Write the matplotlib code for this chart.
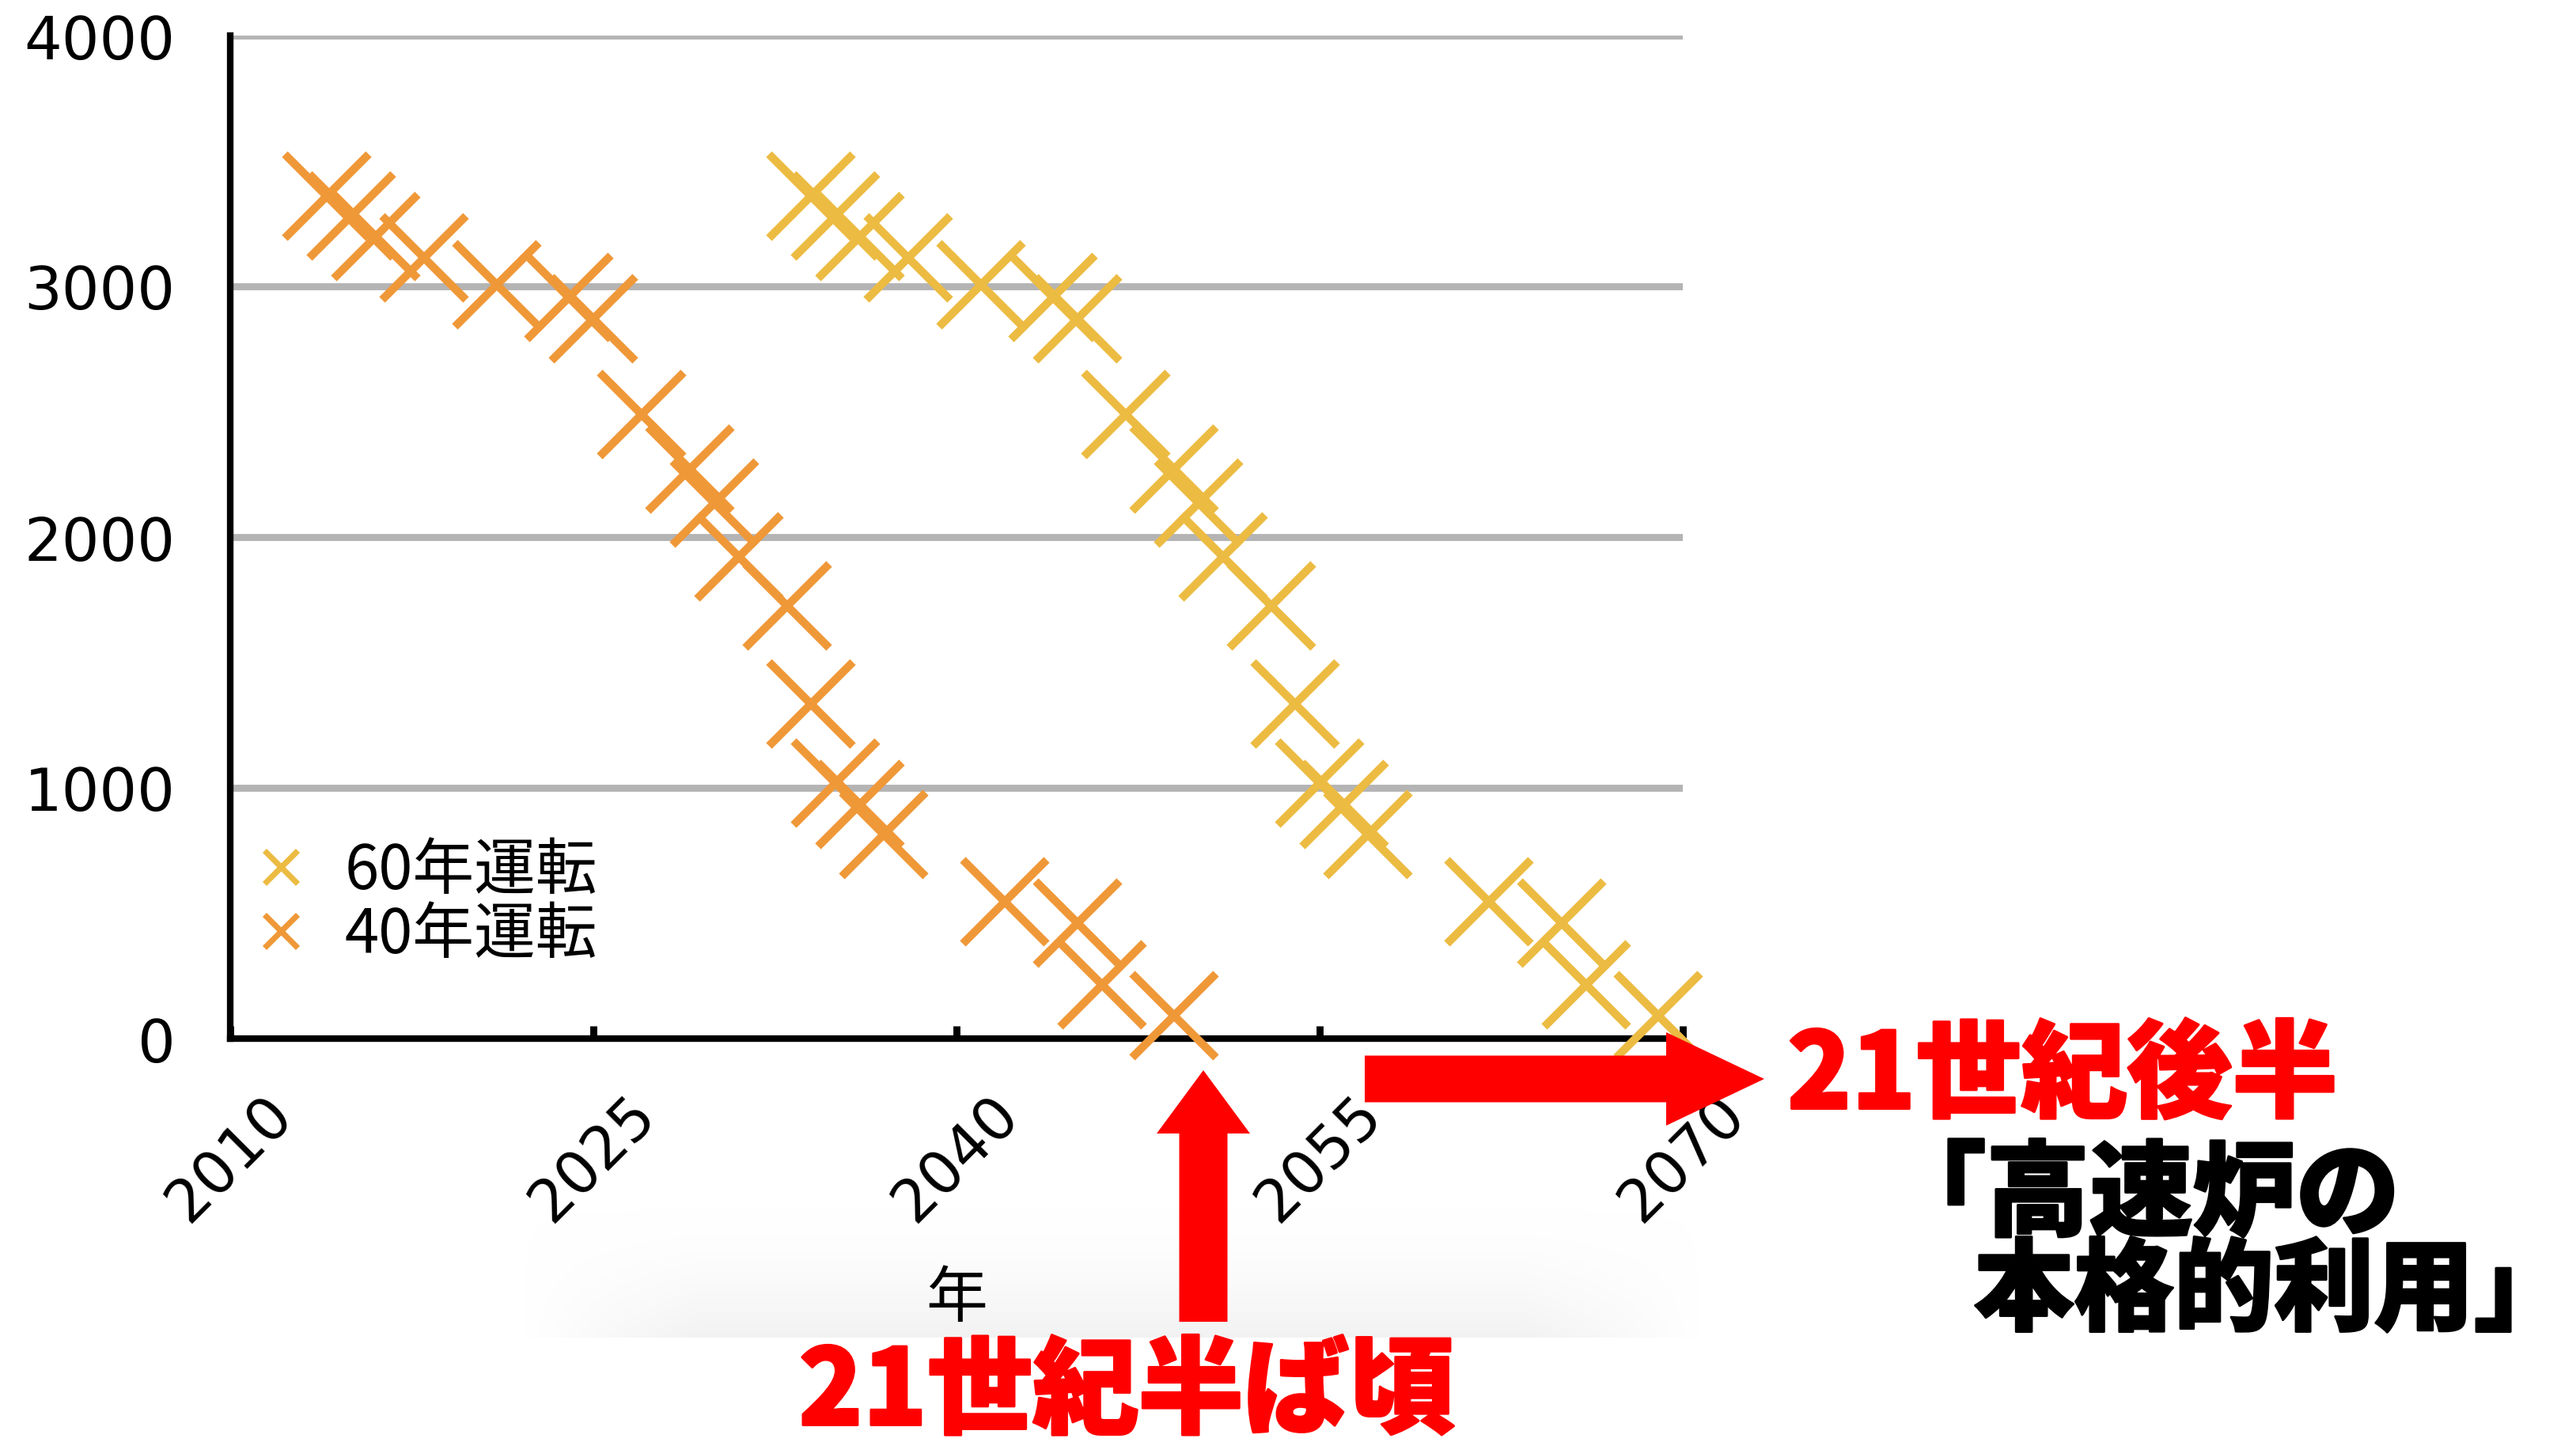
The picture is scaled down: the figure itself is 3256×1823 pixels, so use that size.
import numpy as np
import matplotlib
matplotlib.use("Agg")
import matplotlib.pyplot as plt
import matplotlib.patheffects as pe
from matplotlib.lines import Line2D
from matplotlib.patches import FancyArrow

plt.rcParams['font.family'] = ['DejaVu Sans', 'Noto Sans CJK JP']
JP = ['Noto Sans CJK JP', 'DejaVu Sans']

# 運転期間ごとの推移
years_40 = [2014, 2015, 2016, 2018, 2021, 2024, 2025, 2027, 2029, 2030,
            2031, 2033, 2034, 2035, 2036, 2037, 2042, 2045, 2046, 2049]
values_40 = [3360, 3280, 3200, 3115, 3005, 2955, 2870, 2490, 2270, 2135,
             1920, 1725, 1335, 1020, 935, 815, 545, 460, 215, 90]
years_60 = [2034, 2035, 2036, 2038, 2041, 2044, 2045, 2047, 2049, 2050,
            2051, 2053, 2054, 2055, 2056, 2057, 2062, 2065, 2066, 2069]
values_60 = [3360, 3280, 3200, 3115, 3005, 2955, 2870, 2490, 2270, 2135,
             1920, 1725, 1335, 1020, 935, 815, 545, 460, 215, 90]

labels = ['60年運転', '40年運転']
colors = ['#ECBB42', '#EF9838']
x_ticks = [2010, 2025, 2040, 2055, 2070]
y_ticks = [0, 1000, 2000, 3000, 4000]

W, H, DPI = 3256, 1824, 200
fig = plt.figure(figsize=(W / DPI, H / DPI), dpi=DPI)


def fx(px):
    return px / W


def fy(py):
    return 1 - py / H


def inch(px, py):
    return px / DPI, (H - py) / DPI


ax = fig.add_axes([fx(291), fy(1314), fx(2127) - fx(291), fy(46) - fy(1314)])

ax.plot(years_40, values_40, ls='none', marker='x', ms=38, mew=3.7,
        color=colors[1], clip_on=False, zorder=3)
ax.plot(years_60, values_60, ls='none', marker='x', ms=38, mew=3.7,
        color=colors[0], clip_on=False, zorder=3)

ax.set_xlim(2010, 2070)
ax.set_ylim(0, 4000)
ax.set_xticks(x_ticks)
ax.set_yticks(y_ticks)
ax.set_xticklabels([str(t) for t in x_ticks], rotation=45, ha='center',
                   fontsize=27, family='DejaVu Sans')
ax.set_yticklabels([str(t) for t in y_ticks], fontsize=27, family='DejaVu Sans')
ax.tick_params(axis='x', direction='in', length=5.8, width=3.2, pad=21, color='black')
ax.tick_params(axis='y', length=0, pad=25)

ax.grid(axis='y', color='#B4B4B4', lw=3.2)
ax.set_axisbelow(True)
for s in ['top', 'right']:
    ax.spines[s].set_visible(False)
for s in ['left', 'bottom']:
    ax.spines[s].set_linewidth(3)
    ax.spines[s].set_color('black')

ax.set_xlabel('年', fontsize=28, family=JP)
ax.xaxis.set_label_coords(0.5, -0.228)

handles = [Line2D([], [], ls='none', marker='x', ms=15, mew=2.6, color=c) for c in colors]
ax.legend(handles, labels, loc='upper left', bbox_to_anchor=(0.0136, 0.198),
          frameon=False, handlelength=1.0, handletextpad=0.54,
          labelspacing=0.02, borderpad=0, borderaxespad=0,
          prop={'family': JP, 'size': 28})

# 下部のかすかなグラデーション
haze = fig.add_axes([fx(660), fy(1692), fx(2150) - fx(660), fy(1520) - fy(1692)], zorder=-1)
gy = np.linspace(0, 1, 100)[:, None]
gx = np.linspace(0, 1, 400)[None, :]
edge = np.clip(np.minimum(gx, 1 - gx) / 0.15, 0, 1)
alpha = ((1 - gy) ** 1.8) * edge
img = np.zeros((100, 400, 4))
img[..., :3] = 0.95
img[..., 3] = alpha
haze.imshow(img, aspect='auto', origin='lower', extent=(0, 1, 0, 1))
haze.set_axis_off()

# 矢印
x0, y0 = inch(1521, 1672)
x1, y1 = inch(1521, 1354)
fig.add_artist(FancyArrow(x0, y0, 0, y1 - y0, width=61 / DPI, head_width=118 / DPI,
                          head_length=80 / DPI, length_includes_head=True,
                          color='#FF0000', lw=0, transform=fig.dpi_scale_trans, zorder=5))
x0, y0 = inch(1725, 1365)
x1, y1 = inch(2230, 1365)
fig.add_artist(FancyArrow(x0, y0, x1 - x0, 0, width=59 / DPI, head_width=118 / DPI,
                          head_length=124 / DPI, length_includes_head=True,
                          color='#FF0000', lw=0, transform=fig.dpi_scale_trans, zorder=5))

# 注記
heavy_red = [pe.withStroke(linewidth=1.1, foreground='#FF0000')]
heavy_black = [pe.withStroke(linewidth=1.1, foreground='black')]
fig.text(fx(2259), fy(1363), '21世紀後半', color='#FF0000', fontsize=48,
         fontweight='black', family=JP, ha='left', va='center', path_effects=heavy_red)
fig.text(fx(2380), fy(1514), '「高速炉の', color='black', fontsize=47,
         fontweight='black', family=JP, ha='left', va='center', path_effects=heavy_black)
fig.text(fx(2495), fy(1635), '本格的利用」', color='black', fontsize=45.5,
         fontweight='black', family=JP, ha='left', va='center', path_effects=heavy_black)
fig.text(fx(1424), fy(1763), '21世紀半ば頃', color='#FF0000', fontsize=48,
         fontweight='black', family=JP, ha='center', va='center', path_effects=heavy_red)

fig.savefig('out.png', dpi=DPI, facecolor='white')
